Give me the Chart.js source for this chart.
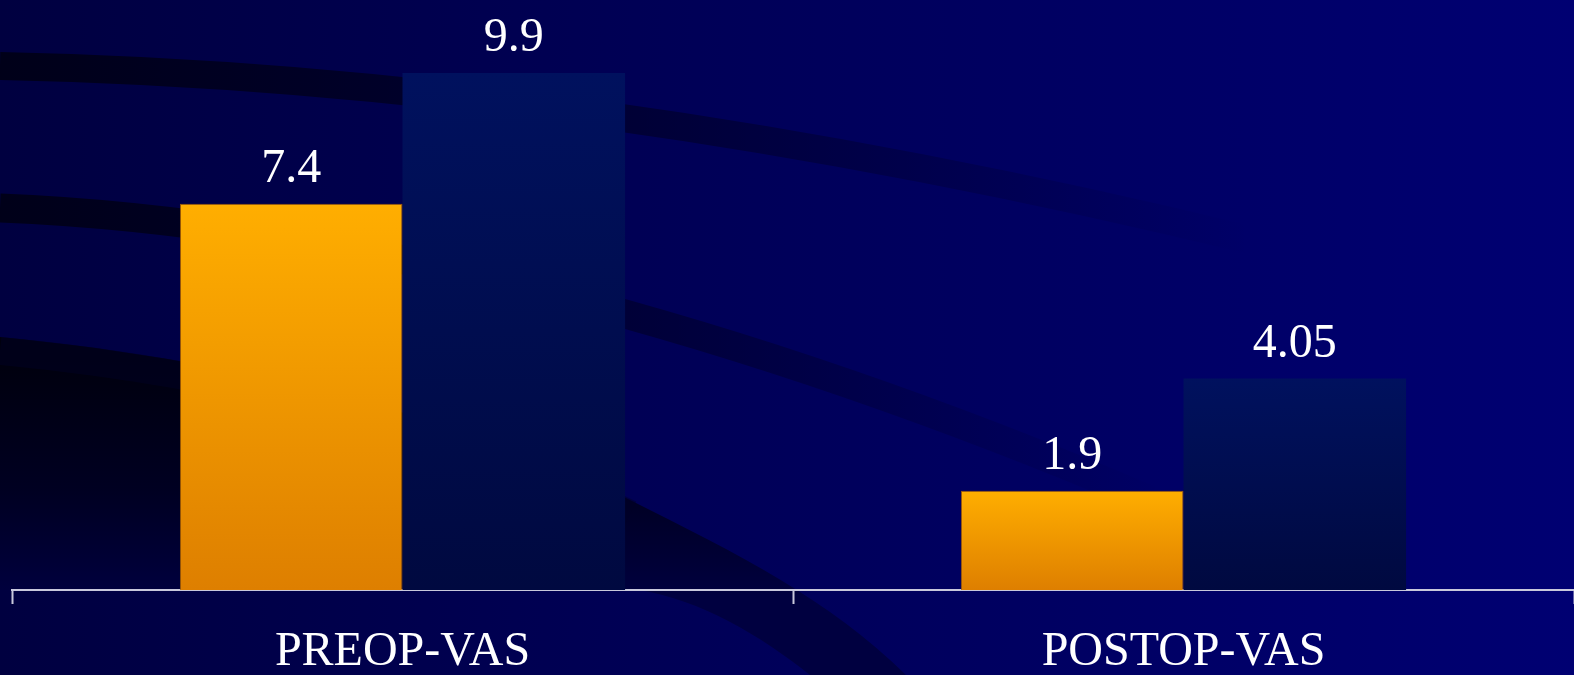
<!DOCTYPE html>
<html>
<head>
<meta charset="utf-8">
<title>VAS</title>
<script src="https://cdn.jsdelivr.net/npm/chart.js@4.4.1/dist/chart.umd.min.js"></script>
<style>
  html, body { margin: 0; padding: 0; background: #000048; }
  #wrap { width: 1574px; height: 675px; position: relative; }
</style>
</head>
<body>
<div id="wrap"><canvas id="vas-chart"></canvas></div>
<script>
// pain scores before / after surgery
const categories = ['PREOP-VAS', 'POSTOP-VAS'];
const seriesOrange = [7.4, 1.9];
const seriesBlue = [9.9, 4.05];
const yMax = 11.3;

const serif = "'Liberation Serif', 'Times New Roman', serif";

// vertical gradient from the top of a bar down to the baseline
function barFill(top, bottom) {
    return function (context) {
        const chart = context.chart;
        if (!chart.chartArea) return top;
        const y = chart.scales.y;
        const v = context.raw;
        const g = chart.ctx.createLinearGradient(0, y.getPixelForValue(v), 0, y.getPixelForValue(0));
        g.addColorStop(0, top);
        g.addColorStop(1, bottom);
        return g;
    };
}

// one dark sweeping band, fading out to the right
function sweep(ctx, pts, w, fadeEnd) {
    const g = ctx.createLinearGradient(0, 0, fadeEnd, 0);
    g.addColorStop(0, 'rgba(0,0,18,0.85)');
    g.addColorStop(0.5, 'rgba(0,0,22,0.5)');
    g.addColorStop(1, 'rgba(0,0,30,0)');
    ctx.beginPath();
    ctx.moveTo(pts[0], pts[1]);
    ctx.bezierCurveTo(pts[2], pts[3], pts[4], pts[5], pts[6], pts[7]);
    ctx.lineWidth = w;
    ctx.strokeStyle = g;
    ctx.stroke();
}

const backdrop = {
    id: 'backdrop',
    beforeDraw(chart) {
        const { ctx, width, height } = chart;
        ctx.save();
        const bg = ctx.createLinearGradient(0, 0, width, 0);
        bg.addColorStop(0, '#000040');
        bg.addColorStop(0.5, '#00005a');
        bg.addColorStop(1, '#000072');
        ctx.fillStyle = bg;
        ctx.fillRect(0, 0, width, height);

        // big dark sweep in the lower left, fading towards the axis
        const dk = ctx.createLinearGradient(0, 360, 0, 600);
        dk.addColorStop(0, '#00000e');
        dk.addColorStop(0.55, '#000022');
        dk.addColorStop(1, '#000040');
        ctx.beginPath();
        ctx.moveTo(0, 337);
        ctx.bezierCurveTo(260, 362, 480, 425, 630, 500);
        ctx.bezierCurveTo(740, 555, 830, 600, 906, 675);
        ctx.lineTo(810, 675);
        ctx.bezierCurveTo(760, 635, 700, 600, 640, 590);
        ctx.lineTo(0, 590);
        ctx.closePath();
        ctx.fillStyle = dk;
        ctx.fill();

        // lighter edge band of that sweep
        ctx.beginPath();
        ctx.moveTo(0, 351);
        ctx.bezierCurveTo(260, 376, 480, 439, 630, 514);
        ctx.lineWidth = 28;
        ctx.strokeStyle = 'rgba(0,0,40,0.45)';
        ctx.stroke();

        sweep(ctx, [0, 66, 450, 75, 880, 150, 1250, 240], 28, 1250);
        sweep(ctx, [0, 208, 350, 222, 750, 330, 1150, 500], 29, 1170);
        ctx.restore();
    }
};

// value printed above each bar
const valueLabels = {
    id: 'valueLabels',
    afterDatasetsDraw(chart) {
        const ctx = chart.ctx;
        ctx.save();
        ctx.font = '48px ' + serif;
        ctx.fillStyle = '#ffffff';
        ctx.textAlign = 'center';
        ctx.textBaseline = 'alphabetic';
        chart.data.datasets.forEach((ds, i) => {
            chart.getDatasetMeta(i).data.forEach((bar, j) => {
                ctx.fillText(String(ds.data[j]), bar.x, bar.y - 22);
            });
        });
        ctx.restore();
    }
};

const ctx1 = document.getElementById('vas-chart');

new Chart(ctx1, {
    type: 'bar',
    data: {
        labels: categories,
        datasets: [
            {
                label: 'Series 1',
                data: seriesOrange,
                backgroundColor: barFill('#ffae00', '#de7f00'),
                borderColor: 'rgba(170,95,0,0.9)',
                borderWidth: 1,
                barPercentage: 1.0,
                categoryPercentage: 0.57
            },
            {
                label: 'Series 2',
                data: seriesBlue,
                backgroundColor: barFill('#00115e', '#000940'),
                borderWidth: 0,
                barPercentage: 1.0,
                categoryPercentage: 0.57
            }
        ]
    },
    options: {
        responsive: true,
        maintainAspectRatio: false,
        animation: false,
        layout: { padding: { left: 12, right: 0, top: 0, bottom: 0 } },
        plugins: {
            legend: { display: false },
            tooltip: { enabled: false }
        },
        scales: {
            x: {
                afterFit: (scale) => { scale.height = 85; },
                grid: {
                    offset: true,
                    drawOnChartArea: false,
                    drawTicks: true,
                    tickLength: 14,
                    tickWidth: 2,
                    color: '#c8c8dc'
                },
                border: { color: '#c8c8dc', width: 2 },
                ticks: {
                    color: '#ffffff',
                    padding: 20,
                    font: { family: serif, size: 48 }
                }
            },
            y: {
                display: false,
                min: 0,
                max: yMax
            }
        }
    },
    plugins: [backdrop, valueLabels]
});
</script>
</body>
</html>
